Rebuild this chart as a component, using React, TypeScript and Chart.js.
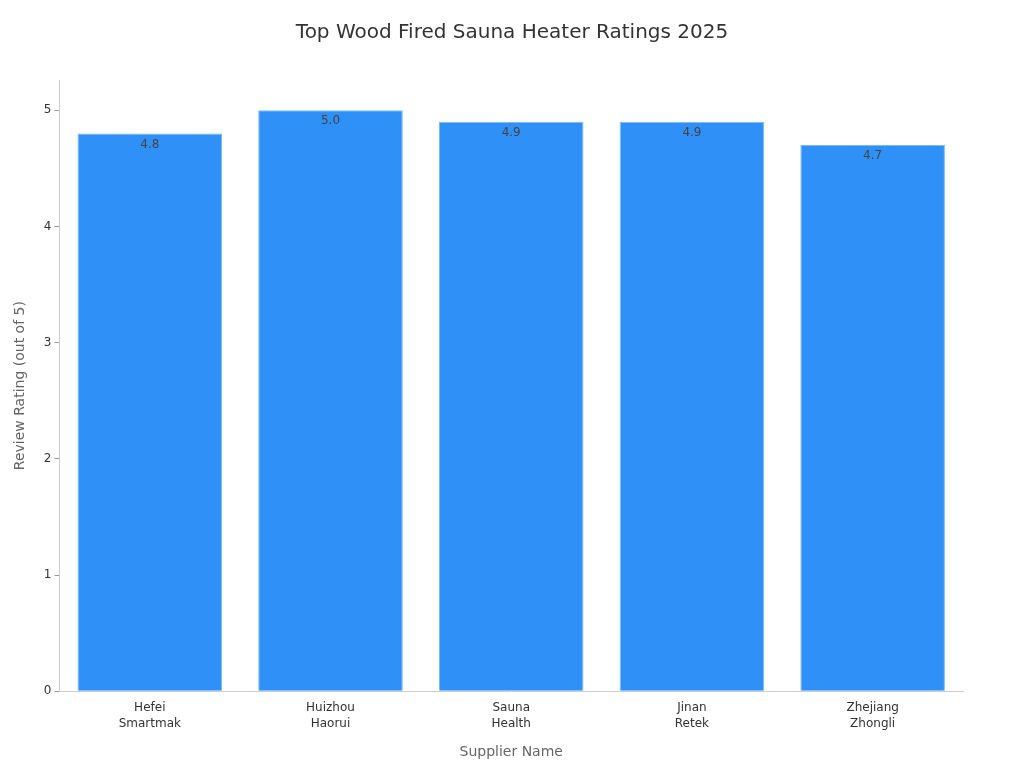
import React, { useEffect, useRef } from "react";
import { Chart, registerables } from "chart.js";

Chart.register(...registerables);

const categories: string[][] = [
  ["Hefei", "Smartmak"],
  ["Huizhou", "Haorui"],
  ["Sauna", "Health"],
  ["Jinan", "Retek"],
  ["Zhejiang", "Zhongli"],
];
const ratings: number[] = [4.8, 5.0, 4.9, 4.9, 4.7];
const yTicks: number[] = [0, 1, 2, 3, 4, 5];
const titleText = "Top Wood Fired Sauna Heater Ratings 2025";

const FONT = "'DejaVu Sans', sans-serif";

const labelPlugin = {
  id: "barLabels",
  afterDatasetsDraw(chart: any) {
    const ctx = chart.ctx;
    const meta = chart.getDatasetMeta(0);
    ctx.save();
    ctx.font = `12px ${FONT}`;
    ctx.fillStyle = "#444444";
    ctx.textAlign = "center";
    ctx.textBaseline = "middle";
    meta.data.forEach((bar: any, i: number) => {
      ctx.fillText(ratings[i].toFixed(1), bar.x, bar.y + 11);
    });
    ctx.restore();
  },
};

const titlePlugin = {
  id: "centerTitle",
  afterDraw(chart: any) {
    const ctx = chart.ctx;
    ctx.save();
    ctx.font = `20px ${FONT}`;
    ctx.fillStyle = "#333333";
    ctx.textAlign = "center";
    ctx.textBaseline = "middle";
    ctx.fillText(titleText, chart.width / 2, 33);
    ctx.restore();
  },
};

export default function App() {
  const ref = useRef<HTMLCanvasElement>(null);
  useEffect(() => {
    if (!ref.current) return;
    const chart = new Chart(ref.current, {
      type: "bar",
      data: {
        labels: categories,
        datasets: [
          {
            data: ratings,
            backgroundColor: "#2F91F8",
            borderColor: "#7DB8F5",
            borderWidth: 1,
            barPercentage: 0.8,
            categoryPercentage: 1,
          },
        ],
      },
      plugins: [labelPlugin, titlePlugin],
      options: {
        responsive: false,
        animation: false,
        layout: { padding: { left: 12, right: 61, top: 80, bottom: 7 } },
        plugins: {
          legend: { display: false },
          tooltip: { enabled: false },
          title: { display: false },
        },
        scales: {
          x: {
            grid: { display: false, drawTicks: true, tickLength: 5, color: "#999999" },
            border: { display: true, color: "#cccccc" },
            ticks: {
              color: "#333333",
              font: { family: FONT, size: 12, lineHeight: 1.33 },
              padding: 4,
            },
            title: {
              display: true,
              text: "Supplier Name",
              color: "#666666",
              font: { family: FONT, size: 14 },
              padding: { top: 8, bottom: 0 },
            },
          },
          y: {
            min: 0,
            max: 5.26,
            afterBuildTicks(axis: any) {
              axis.ticks = yTicks.map((v) => ({ value: v }));
            },
            grid: {
              display: true,
              drawOnChartArea: false,
              drawTicks: true,
              tickLength: 5,
              color: "#999999",
            },
            border: { display: true, color: "#cccccc" },
            ticks: { color: "#333333", font: { family: FONT, size: 12 }, padding: 3 },
            title: {
              display: true,
              text: "Review Rating (out of 5)",
              color: "#666666",
              font: { family: FONT, size: 14 },
              padding: { top: 0, bottom: 12 },
            },
          },
        },
      },
    });
    return () => chart.destroy();
  }, []);
  return (
    <div style={{ position: "absolute", left: 0, top: 0, width: 1024, height: 768, background: "#fff" }}>
      <canvas ref={ref} width={1024} height={768} />
    </div>
  );
}
